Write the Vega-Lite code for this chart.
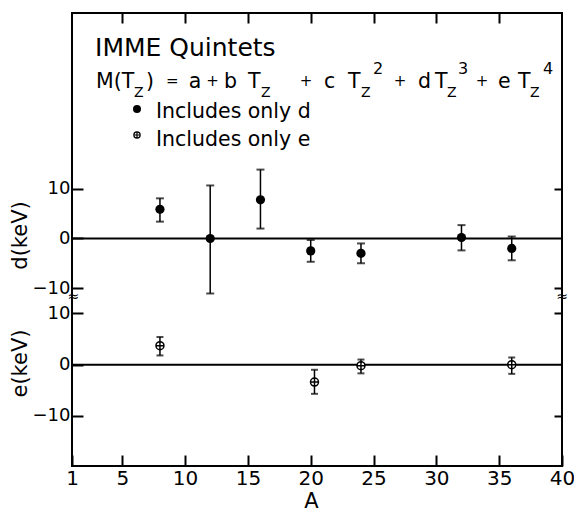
{
  "$schema": "https://vega.github.io/schema/vega-lite/v6.json",
  "autosize": "none",
  "padding": {"left": 72, "top": 13, "right": 12, "bottom": 46},
  "width": 490,
  "height": 453,
  "config": {
    "font": "DejaVu Sans",
    "view": {"stroke": "black", "strokeWidth": 2},
    "axis": {"grid": false, "domain": false, "labelColor": "black", "titleColor": "black", "tickColor": "black", "labelFlush": false, "labelOverlap": false, "titleFontWeight": "normal"}
  },
  "datasets": {
    "dpts": [
      {"A": 8, "d": 5.9, "lo": 3.4, "hi": 8.1},
      {"A": 12, "d": 0.0, "lo": -11.1, "hi": 10.7},
      {"A": 16, "d": 7.8, "lo": 2.0, "hi": 13.9},
      {"A": 20, "d": -2.5, "lo": -4.7, "hi": -0.3},
      {"A": 24, "d": -3.0, "lo": -5.0, "hi": -1.0},
      {"A": 32, "d": 0.2, "lo": -2.4, "hi": 2.7},
      {"A": 36, "d": -2.0, "lo": -4.4, "hi": 0.4}
    ],
    "epts": [
      {"A": 8, "e": 3.7, "lo": 1.8, "hi": 5.4},
      {"A": 20.3, "e": -3.4, "lo": -5.7, "hi": -1.0},
      {"A": 24, "e": -0.2, "lo": -1.7, "hi": 1.0},
      {"A": 36, "e": 0.0, "lo": -1.8, "hi": 1.4}
    ],
    "eqmain": [
      {"A": 2.910, "d": 30.37, "t": "M(T"},
      {"A": 6.890, "d": 30.37, "t": ")"},
      {"A": 10.300, "d": 30.37, "t": "a"},
      {"A": 13.100, "d": 30.37, "t": "b"},
      {"A": 15.008, "d": 30.37, "t": "T"},
      {"A": 21.057, "d": 30.37, "t": "c"},
      {"A": 22.968, "d": 30.37, "t": "T"},
      {"A": 28.539, "d": 30.37, "t": "d"},
      {"A": 29.892, "d": 30.37, "t": "T"},
      {"A": 34.906, "d": 30.37, "t": "e"},
      {"A": 36.498, "d": 30.37, "t": "T"}
    ],
    "eqops": [
      {"A": 8.990, "d": 30.37, "t": "="},
      {"A": 12.179, "d": 30.37, "t": "+"},
      {"A": 19.624, "d": 30.37, "t": "+"},
      {"A": 27.106, "d": 30.37, "t": "+"},
      {"A": 33.633, "d": 30.37, "t": "+"}
    ],
    "eqsub": [
      {"A": 5.935, "d": 28.55, "t": "Z"},
      {"A": 16.043, "d": 28.55, "t": "Z"},
      {"A": 24.002, "d": 28.55, "t": "Z"},
      {"A": 30.847, "d": 28.55, "t": "Z"},
      {"A": 37.454, "d": 28.55, "t": "Z"}
    ],
    "eqsup": [
      {"A": 24.958, "d": 33.19, "t": "2"},
      {"A": 31.723, "d": 33.19, "t": "3"},
      {"A": 38.488, "d": 33.19, "t": "4"}
    ]
  },
  "resolve": {"scale": {"y": "independent"}, "axis": {"y": "independent", "x": "independent"}},
  "layer": [
    {
      "resolve": {"axis": {"y": "independent", "x": "independent"}},
      "layer": [
        {
          "data": {"values": [{"v": 0}]},
          "mark": {"type": "rule", "color": "black", "strokeWidth": 2},
          "encoding": {
            "y": {"field": "v", "type": "quantitative",
              "scale": {"domain": [-11, 45.5], "range": [280, 0], "nice": false, "zero": false},
              "axis": {"orient": "left", "values": [-10, 0, 10], "format": "d", "tickSize": -11, "tickWidth": 2, "labelFontSize": 18, "labelPadding": 13, "title": "d(keV)", "titleFontSize": 21, "titleX": -52, "titleY": 222, "titleAngle": -90, "titleAlign": "center", "titleBaseline": "middle"}}
          }
        },
        {
          "data": {"name": "dpts"},
          "mark": {"type": "rule", "color": "black", "strokeWidth": 1.5},
          "encoding": {
            "x": {"field": "A", "type": "quantitative", "scale": {"domain": [1, 40], "nice": false, "zero": false},
              "axis": {"orient": "top", "values": [5, 10, 15, 20, 25, 30, 35], "labels": false, "tickSize": -10, "tickWidth": 2, "title": null}},
            "y": {"field": "lo", "type": "quantitative",
              "scale": {"domain": [-11, 45.5], "range": [280, 0], "nice": false, "zero": false},
              "axis": {"orient": "right", "values": [-10, 10], "labels": false, "tickSize": -8, "tickWidth": 2, "title": null}},
            "y2": {"field": "hi"}
          }
        },
        {
          "data": {"name": "dpts"},
          "mark": {"type": "tick", "orient": "horizontal", "size": 8, "thickness": 2, "color": "black"},
          "encoding": {
            "x": {"field": "A", "type": "quantitative", "axis": null},
            "y": {"field": "lo", "type": "quantitative", "axis": null}
          }
        },
        {
          "data": {"name": "dpts"},
          "mark": {"type": "tick", "orient": "horizontal", "size": 8, "thickness": 2, "color": "black"},
          "encoding": {
            "x": {"field": "A", "type": "quantitative", "axis": null},
            "y": {"field": "hi", "type": "quantitative", "axis": null}
          }
        },
        {
          "data": {"name": "dpts"},
          "mark": {"type": "point", "shape": "circle", "filled": true, "size": 85, "color": "black", "opacity": 1},
          "encoding": {
            "x": {"field": "A", "type": "quantitative", "axis": null},
            "y": {"field": "d", "type": "quantitative", "axis": null}
          }
        },
        {
          "data": {"values": [{"A": 2.831, "d": 36.82, "t": "IMME Quintets"}]},
          "mark": {"type": "text", "align": "left", "baseline": "alphabetic", "fontSize": 25, "color": "black"},
          "encoding": {
            "x": {"field": "A", "type": "quantitative", "axis": null},
            "y": {"field": "d", "type": "quantitative", "axis": null},
            "text": {"field": "t"}
          }
        },
        {
          "data": {"name": "eqmain"},
          "mark": {"type": "text", "align": "left", "baseline": "alphabetic", "fontSize": 20.5, "color": "black"},
          "encoding": {
            "x": {"field": "A", "type": "quantitative", "axis": null},
            "y": {"field": "d", "type": "quantitative", "axis": null},
            "text": {"field": "t"}
          }
        },
        {
          "data": {"name": "eqops"},
          "mark": {"type": "text", "align": "center", "baseline": "alphabetic", "fontSize": 15, "color": "black", "dy": -2},
          "encoding": {
            "x": {"field": "A", "type": "quantitative", "axis": null},
            "y": {"field": "d", "type": "quantitative", "axis": null},
            "text": {"field": "t"}
          }
        },
        {
          "data": {"name": "eqsub"},
          "mark": {"type": "text", "align": "left", "baseline": "alphabetic", "fontSize": 14, "color": "black"},
          "encoding": {
            "x": {"field": "A", "type": "quantitative", "axis": null},
            "y": {"field": "d", "type": "quantitative", "axis": null},
            "text": {"field": "t"}
          }
        },
        {
          "data": {"name": "eqsup"},
          "mark": {"type": "text", "align": "left", "baseline": "alphabetic", "fontSize": 16, "color": "black"},
          "encoding": {
            "x": {"field": "A", "type": "quantitative", "axis": null},
            "y": {"field": "d", "type": "quantitative", "axis": null},
            "text": {"field": "t"}
          }
        },
        {
          "data": {"values": [{"A": 7.686, "d": 24.31, "t": "Includes only d"}, {"A": 7.686, "d": 18.66, "t": "Includes only e"}]},
          "mark": {"type": "text", "align": "left", "baseline": "alphabetic", "fontSize": 20.5, "color": "black"},
          "encoding": {
            "x": {"field": "A", "type": "quantitative", "axis": null},
            "y": {"field": "d", "type": "quantitative", "axis": null},
            "text": {"field": "t"}
          }
        },
        {
          "data": {"values": [{"A": 6.173, "d": 26.13}]},
          "mark": {"type": "point", "shape": "circle", "filled": true, "size": 64, "color": "black", "opacity": 1},
          "encoding": {
            "x": {"field": "A", "type": "quantitative", "axis": null},
            "y": {"field": "d", "type": "quantitative", "axis": null}
          }
        },
        {
          "data": {"values": [{"A": 6.173, "d": 20.88}]},
          "mark": {"type": "point", "shape": "M-1,0A1,1 0 1,0 1,0A1,1 0 1,0 -1,0ZM-1,0L1,0M0,-1L0,1", "filled": false, "size": 40, "color": "black", "strokeWidth": 1.2, "opacity": 1},
          "encoding": {
            "x": {"field": "A", "type": "quantitative", "axis": null},
            "y": {"field": "d", "type": "quantitative", "axis": null}
          }
        },
        {
          "data": {"values": [{"A": 1.1, "d": -11.9, "t": "≈"}, {"A": 40, "d": -11.9, "t": "≈"}]},
          "mark": {"type": "text", "align": "center", "baseline": "middle", "fontSize": 14, "color": "black"},
          "encoding": {
            "x": {"field": "A", "type": "quantitative", "axis": null},
            "y": {"field": "d", "type": "quantitative", "axis": null},
            "text": {"field": "t"}
          }
        }
      ]
    },
    {
      "resolve": {"axis": {"y": "independent", "x": "independent"}},
      "layer": [
        {
          "data": {"values": [{"v": 0}]},
          "mark": {"type": "rule", "color": "black", "strokeWidth": 2},
          "encoding": {
            "y": {"field": "v", "type": "quantitative",
              "scale": {"domain": [-19.8, 14], "range": [453, 280], "nice": false, "zero": false},
              "axis": {"orient": "left", "values": [-10, 0, 10], "format": "d", "tickSize": -11, "tickWidth": 2, "labelFontSize": 18, "labelPadding": 13, "title": "e(keV)", "titleFontSize": 21, "titleX": -52, "titleY": 350, "titleAngle": -90, "titleAlign": "center", "titleBaseline": "middle"}}
          }
        },
        {
          "data": {"name": "epts"},
          "mark": {"type": "rule", "color": "black", "strokeWidth": 1.5},
          "encoding": {
            "x": {"field": "A", "type": "quantitative", "scale": {"domain": [1, 40], "nice": false, "zero": false},
              "axis": {"orient": "bottom", "values": [1, 5, 10, 15, 20, 25, 30, 35, 40], "tickSize": -11, "tickWidth": 2, "labelFontSize": 20, "labelPadding": 13, "title": "A", "titleFontSize": 21, "titleX": 239, "titleY": 41, "titleBaseline": "alphabetic", "titleAlign": "center"}},
            "y": {"field": "lo", "type": "quantitative",
              "scale": {"domain": [-19.8, 14], "range": [453, 280], "nice": false, "zero": false},
              "axis": {"orient": "right", "values": [-10, 10], "labels": false, "tickSize": -8, "tickWidth": 2, "title": null}},
            "y2": {"field": "hi"}
          }
        },
        {
          "data": {"name": "epts"},
          "mark": {"type": "tick", "orient": "horizontal", "size": 7, "thickness": 2, "color": "black"},
          "encoding": {
            "x": {"field": "A", "type": "quantitative", "axis": null},
            "y": {"field": "lo", "type": "quantitative", "axis": null}
          }
        },
        {
          "data": {"name": "epts"},
          "mark": {"type": "tick", "orient": "horizontal", "size": 7, "thickness": 2, "color": "black"},
          "encoding": {
            "x": {"field": "A", "type": "quantitative", "axis": null},
            "y": {"field": "hi", "type": "quantitative", "axis": null}
          }
        },
        {
          "data": {"name": "epts"},
          "mark": {"type": "point", "shape": "M-1,0A1,1 0 1,0 1,0A1,1 0 1,0 -1,0ZM-1,0L1,0M0,-1L0,1", "filled": false, "size": 64, "color": "black", "fill": "white", "strokeWidth": 1.5, "opacity": 1},
          "encoding": {
            "x": {"field": "A", "type": "quantitative", "axis": null},
            "y": {"field": "e", "type": "quantitative", "axis": null}
          }
        }
      ]
    }
  ]
}
